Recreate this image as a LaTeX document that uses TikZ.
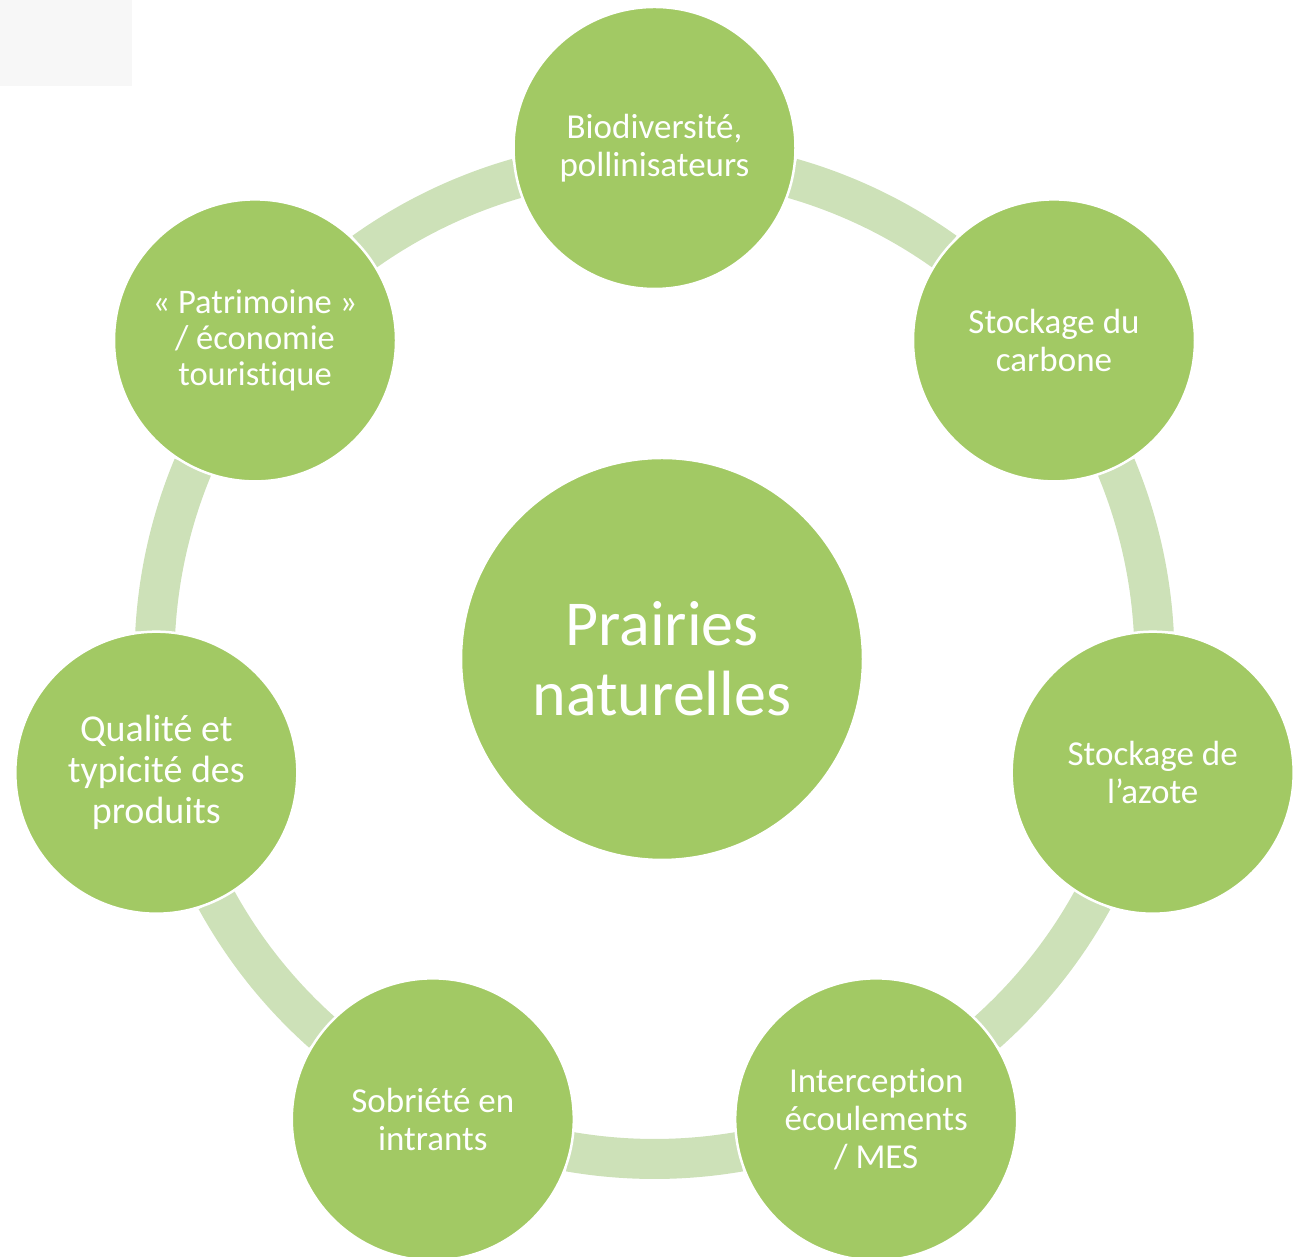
\documentclass[tikz,border=0pt]{standalone}
\usepackage{fontspec}
\setmainfont[Ligatures=NoCommon]{Carlito}
\usetikzlibrary{calc}
\definecolor{nodegreen}{HTML}{A2C964}
\definecolor{ringgreen}{HTML}{CDE1B8}
\definecolor{boxgray}{HTML}{F7F7F7}
\tikzset{
  outernode/.style={circle, fill=nodegreen, draw=white, line width=2.5pt, minimum size=282pt, inner sep=0pt, text=white, align=center, font=\fontsize{35}{38}\selectfont},
  centernode/.style={circle, fill=nodegreen, draw=white, line width=2.5pt, minimum size=402pt, inner sep=0pt, text=white, align=center, font=\fontsize{64}{70}\selectfont},
  ringseg/.style={draw=ringgreen, line width=40pt, line cap=butt}
}
\begin{document}
\begin{tikzpicture}[x=1pt,y=1pt]
\useasboundingbox (0,0) rectangle (1299,1257);
\fill[boxgray] (0,1257) rectangle (132,1171);
\coordinate (rc) at (654.5,598);
% ring segments
\foreach \k in {0,...,6}{
  \pgfmathsetmacro{\sa}{90-51.4286*\k-15.9}
  \pgfmathsetmacro{\ea}{90-51.4286*\k-51.4286+15.9}
  \draw[ringseg] ($(rc)+(\sa:500)$) arc[start angle=\sa, end angle=\ea, radius=500];
}
\node[centernode] (center) at (662,598) {Prairies\\naturelles};
\node[outernode] (bio) at ($(rc)+(90:511)$) {Biodiversité,\\pollinisateurs};
\node[outernode] (carb) at ($(rc)+(38.5714:511)$) {Stockage du\\carbone};
\node[outernode] (azote) at ($(rc)+(-12.8571:511)$) {Stockage de\\l’azote};
\node[outernode] (inter) at ($(rc)+(-64.2857:511)$) {Interception\\écoulements\\/ MES};
\node[outernode] (sobr) at ($(rc)+(-115.7143:511)$) {Sobriété en\\intrants};
\node[outernode, font=\fontsize{38}{41}\selectfont] (qual) at ($(rc)+(-167.1429:511)$) {Qualité et\\typicité des\\produits};
\node[outernode, font=\fontsize{34.5}{36}\selectfont] (patr) at ($(rc)+(141.4286:511)$) {«~Patrimoine~»\\/ économie\\touristique};
\end{tikzpicture}
\end{document}
